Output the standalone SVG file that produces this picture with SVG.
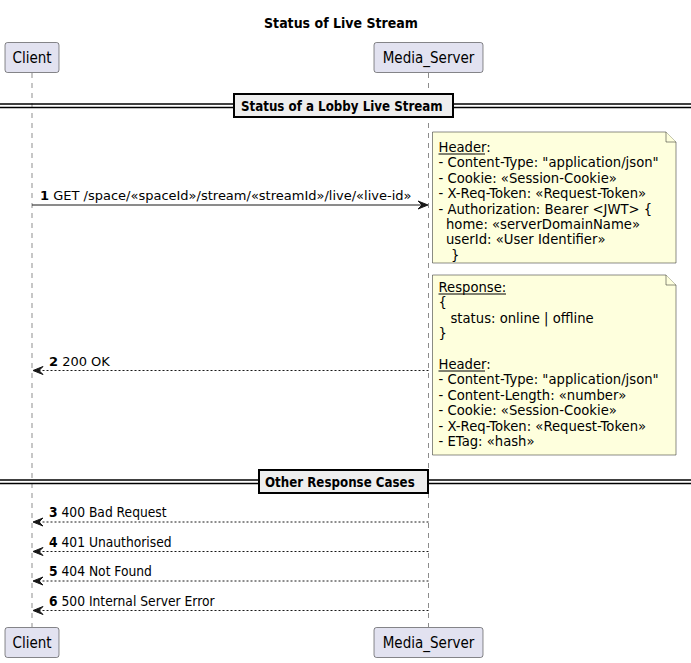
<svg xmlns="http://www.w3.org/2000/svg" width="691" height="663" viewBox="0 0 691 663">
<style>
.bg{fill:#FFFFFF}
.part{fill:#E2E2F0;stroke:#181818;stroke-width:0.5}
.ptxt{font-family:"DejaVu Sans Condensed","DejaVu Sans",sans-serif;font-size:15px;fill:#000000;text-anchor:middle}
.life{stroke:#181818;stroke-width:0.5;stroke-dasharray:5,5;fill:none}
.note{fill:#FEFFDD;stroke:#181818;stroke-width:0.5}
.ntxt{font-family:"DejaVu Sans","Noto Sans",sans-serif;font-size:13.2px;fill:#000000}
.msg{stroke:#181818;stroke-width:1;fill:none}
.dash{stroke-dasharray:2,2}
.head{fill:#181818;stroke:#181818;stroke-width:1}
.mtxt{font-family:"DejaVu Sans","Noto Sans",sans-serif;font-size:13px;fill:#000000}
.ctxt{font-family:"DejaVu Sans Condensed","DejaVu Sans",sans-serif;font-size:13.7px;fill:#000000}
.sep{stroke:#000000;stroke-width:1.5}
.sepbox{fill:#EEEEEE;stroke:#000000;stroke-width:2}
.stxt{font-family:"DejaVu Sans Condensed","DejaVu Sans",sans-serif;font-size:13.2px;font-weight:bold;fill:#000000}
.title{font-family:"DejaVu Sans Condensed","DejaVu Sans",sans-serif;font-size:14px;font-weight:bold;fill:#000000;text-anchor:middle}
</style>
<rect class="bg" x="0" y="0" width="691" height="663"/>
<text class="title" x="341" y="28">Status of Live Stream</text>

<g id="lifelines">
<line class="life" x1="32" y1="73" x2="32" y2="627"/>
<line class="life" x1="428.5" y1="73" x2="428.5" y2="627"/>
</g>

<g id="Client">
<rect class="part" x="5" y="42.5" width="54" height="30" rx="2.5"/>
<text class="ptxt" x="32" y="63">Client</text>
<rect class="part" x="5" y="627.5" width="54" height="30" rx="2.5"/>
<text class="ptxt" x="32" y="648">Client</text>
</g>

<g id="Media_Server">
<rect class="part" x="374" y="42.5" width="109" height="30" rx="2.5"/>
<text class="ptxt" x="428.5" y="63">Media_Server</text>
<rect class="part" x="374" y="627.5" width="109" height="30" rx="2.5"/>
<text class="ptxt" x="428.5" y="648">Media_Server</text>
</g>

<g id="divider1">
<line class="sep" x1="0" y1="104" x2="691" y2="104"/>
<line class="sep" x1="0" y1="107.5" x2="691" y2="107.5"/>
<rect class="sepbox" x="234" y="94" width="219" height="23"/>
<text class="stxt" x="241" y="110.5">Status of a Lobby Live Stream</text>
</g>

<g id="note1">
<path class="note" d="M432.5,132 L432.5,263 L676,263 L676,142 L666,132 Z"/>
<path class="note" d="M666,132 L666,142 L676,142"/>
<text class="ntxt" x="438.5" y="152">Header:</text>
<line x1="438.5" y1="154" x2="485" y2="154" stroke="#000" stroke-width="1"/>
<text class="ntxt" x="438.5" y="167.4">- Content-Type: "application/json"</text>
<text class="ntxt" x="438.5" y="182.8">- Cookie: «Session-Cookie»</text>
<text class="ntxt" x="438.5" y="198.2">- X-Req-Token: «Request-Token»</text>
<text class="ntxt" x="438.5" y="213.6">- Authorization: Bearer &lt;JWT&gt; {</text>
<text class="ntxt" x="446" y="229">home: «serverDomainName»</text>
<text class="ntxt" x="446" y="244.4">userId: «User Identifier»</text>
<text class="ntxt" x="451" y="259.8">}</text>
</g>

<g id="note2">
<path class="note" d="M432.5,275 L432.5,455 L676,455 L676,285 L666,275 Z"/>
<path class="note" d="M666,275 L666,285 L676,285"/>
<text class="ntxt" x="438.5" y="292">Response:</text>
<line x1="438.5" y1="294" x2="506" y2="294" stroke="#000" stroke-width="1"/>
<text class="ntxt" x="438.5" y="307.4">{</text>
<text class="ntxt" x="450.5" y="322.8">status: online | offline</text>
<text class="ntxt" x="438.5" y="338.2">}</text>
<text class="ntxt" x="438.5" y="369">Header:</text>
<line x1="438.5" y1="371" x2="485" y2="371" stroke="#000" stroke-width="1"/>
<text class="ntxt" x="438.5" y="384.4">- Content-Type: "application/json"</text>
<text class="ntxt" x="438.5" y="399.8">- Content-Length: «number»</text>
<text class="ntxt" x="438.5" y="415.2">- Cookie: «Session-Cookie»</text>
<text class="ntxt" x="438.5" y="430.6">- X-Req-Token: «Request-Token»</text>
<text class="ntxt" x="438.5" y="446">- ETag: «hash»</text>
</g>

<g id="divider2">
<line class="sep" x1="0" y1="480" x2="691" y2="480"/>
<line class="sep" x1="0" y1="483.5" x2="691" y2="483.5"/>
<rect class="sepbox" x="259" y="470" width="169" height="23"/>
<text class="stxt" x="265" y="486.5">Other Response Cases</text>
</g>

<g id="connectors">
<line class="msg" x1="32" y1="205" x2="426" y2="205"/>
<polygon class="head" points="428,205 418,201 422,205 418,209"/>
<text class="mtxt" x="40" y="200"><tspan font-weight="bold">1</tspan> GET /space/«spaceId»/stream/«streamId»/live/«live-id»</text>

<line class="msg dash" x1="428.5" y1="370.5" x2="34" y2="370.5"/>
<polygon class="head" points="33,370.5 43,366.5 39,370.5 43,374.5"/>
<text class="mtxt" x="49" y="365.5"><tspan font-weight="bold">2</tspan> 200 OK</text>

<line class="msg dash" x1="428.5" y1="522" x2="34" y2="522"/>
<polygon class="head" points="33,522 43,518 39,522 43,526"/>
<text class="ctxt" x="49" y="517"><tspan font-weight="bold">3</tspan> 400 Bad Request</text>

<line class="msg dash" x1="428.5" y1="551.5" x2="34" y2="551.5"/>
<polygon class="head" points="33,551.5 43,547.5 39,551.5 43,555.5"/>
<text class="ctxt" x="49" y="546.5"><tspan font-weight="bold">4</tspan> 401 Unauthorised</text>

<line class="msg dash" x1="428.5" y1="581" x2="34" y2="581"/>
<polygon class="head" points="33,581 43,577 39,581 43,585"/>
<text class="ctxt" x="49" y="576"><tspan font-weight="bold">5</tspan> 404 Not Found</text>

<line class="msg dash" x1="428.5" y1="610.5" x2="34" y2="610.5"/>
<polygon class="head" points="33,610.5 43,606.5 39,610.5 43,614.5"/>
<text class="ctxt" x="49" y="605.5"><tspan font-weight="bold">6</tspan> 500 Internal Server Error</text>
</g>
</svg>
